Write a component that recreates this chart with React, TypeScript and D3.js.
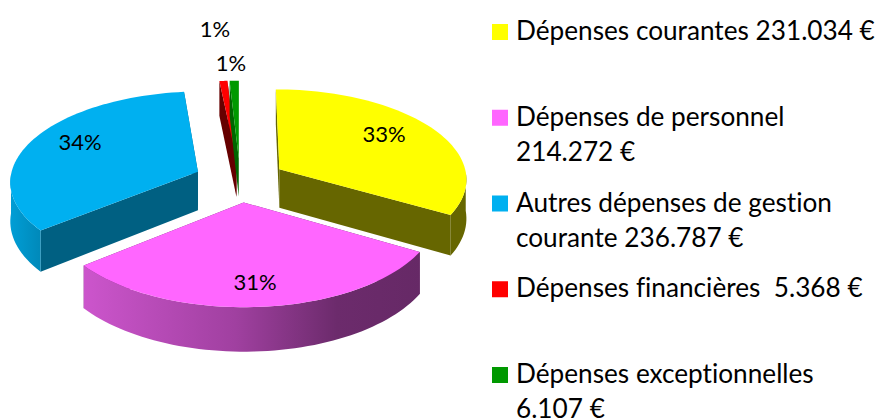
import React from "react";
import * as d3 from "d3";

const width = 878, height = 419;

// values in euros, same order as the legend
const categories = ["Dépenses courantes", "Dépenses de personnel", "Autres dépenses de gestion", "Dépenses financières", "Dépenses exceptionnelles"];
const values = [231034, 214272, 236787, 5368, 6107];
const percentLabels = ["33%", "31%", "34%", "1%", "1%"];
const legendLines = [
  ["Dépenses courantes 231.034 €"],
  ["Dépenses de personnel", "214.272 €"],
  ["Autres dépenses de gestion", "courante 236.787 €"],
  ["Dépenses financières  5.368 €"],
  ["Dépenses exceptionnelles", "6.107 €"],
];
const topColors = ["#ffff00", "#ff66ff", "#00b0f0", "#ff0000", "#009900"];
const wallColors = ["#666600", "#662966", "#006082", "#660000", "#006600"];
const rimColors = ["#666600", "url(#pinkRim)", "url(#blueRim)", "#660000", "#006600"];

// label centres, placed by hand like in the original
const labelX = [384, 255, 80, 215, 231];
const labelY = [133, 281, 141, 28, 62];

// projection of the pie plane
const cx = 240, cy = 180;
const R = 188, explode = 46, depth = 39;
const tilt = 0.477, viewDist = 1900;

const project = (u: number, v: number, z = 0): [number, number] => {
  const s = 1 / (1 - v / viewDist);
  return [cx + u * s, cy + (v * tilt + z) * s];
};

const line = d3.line();

const App = () => {
  const arcs = d3.pie<number>().sort(null)(values);
  const mid = (d: any) => (d.startAngle + d.endAngle) / 2;

  const pt = (d: any, a: number, r: number, z = 0) => {
    const off = [Math.sin(mid(d)) * explode, -Math.cos(mid(d)) * explode];
    return project(off[0] + Math.sin(a) * r, off[1] - Math.cos(a) * r, z);
  };
  const samples = (d: any) => d3.range(0, 61).map(i => d.startAngle + (d.endAngle - d.startAngle) * i / 60);

  const wall = (d: any, a: number) =>
    line([pt(d, a, 0), pt(d, a, R), pt(d, a, R, depth), pt(d, a, 0, depth)]) + "Z";
  const rim = (d: any) => {
    const front = samples(d).filter(a => Math.cos(a) < 0);
    if (!front.length) return null;
    return line([...front.map(a => pt(d, a, R)), ...front.reverse().map(a => pt(d, a, R, depth))]) + "Z";
  };
  const top = (d: any) => line([pt(d, 0, 0), ...samples(d).map(a => pt(d, a, R))]) + "Z";

  // back slices first
  const drawOrder = [3, 4, 2, 0, 1];
  const font = "Lato, 'Open Sans', sans-serif";

  return (
    <svg width={width} height={height} style={{ position: "absolute", left: 0, top: 0, fontVariantLigatures: "none" }}>
      <defs>
        <linearGradient id="pinkRim" gradientUnits="userSpaceOnUse" x1={84} x2={421} y1={0} y2={0}>
          <stop offset="0" stopColor="#cc55cc" />
          <stop offset="0.45" stopColor="#a040a0" />
          <stop offset="0.75" stopColor="#6c2b6c" />
          <stop offset="1" stopColor="#662966" />
        </linearGradient>
        <linearGradient id="blueRim" gradientUnits="userSpaceOnUse" x1={10} x2={42} y1={0} y2={0}>
          <stop offset="0" stopColor="#009ed6" />
          <stop offset="1" stopColor="#0088b8" />
        </linearGradient>
      </defs>
      <rect width={width} height={height} fill="#fff" />

      {drawOrder.map(i => {
        const d = arcs[i];
        const r = rim(d);
        return (
          <g key={categories[i]}>
            <path d={wall(d, d.startAngle)} fill={wallColors[i]} />
            <path d={wall(d, d.endAngle)} fill={wallColors[i]} />
            {r && <path d={r} fill={rimColors[i]} />}
            <path d={top(d)} fill={topColors[i]} />
          </g>
        );
      })}

      <g fontFamily={font} fontSize={22} textAnchor="middle" fill="#000">
        {percentLabels.map((t, i) => (
          <text key={i} x={labelX[i]} y={labelY[i]} dominantBaseline="central">{t}</text>
        ))}
      </g>

      <g fontFamily={font} fontSize={26.2} fill="#000">
        {legendLines.map((lines, i) => {
          const base = 40 + i * 85.75;
          return (
            <g key={i}>
              <rect x={492} y={base - 16} width={16} height={16} fill={topColors[i]} />
              {lines.map((t, j) => (
                <text key={j} x={516} y={base + j * 35.3} style={{ whiteSpace: "pre" }}>{t}</text>
              ))}
            </g>
          );
        })}
      </g>
    </svg>
  );
};

export default App;
